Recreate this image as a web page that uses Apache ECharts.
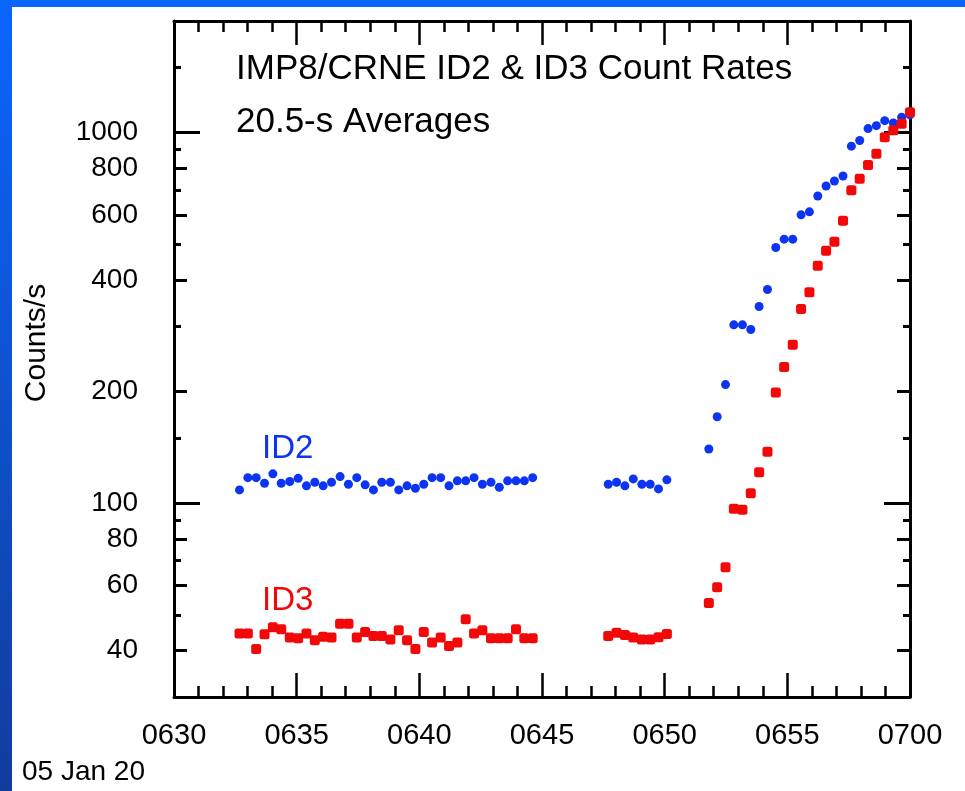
<!DOCTYPE html>
<html>
<head>
<meta charset="utf-8">
<script src="https://cdn.jsdelivr.net/npm/echarts@6/dist/echarts.min.js"></script>
<style>
  html, body { margin: 0; padding: 0; }
  #chart { width: 965px; height: 791px; }
</style>
</head>
<body>
<div id="chart"></div>
<script>
// Sample times: minutes after 0630 UT on 05 Jan 20, one point per 20.5-s average
const sampleMinutes = [
  2.67, 3.01, 3.35, 3.69, 4.03, 4.37, 4.72, 5.06, 5.40, 5.74, 6.08, 6.42,
  6.77, 7.11, 7.45, 7.79, 8.13, 8.47, 8.82, 9.16, 9.50, 9.84, 10.18, 10.52,
  10.87, 11.21, 11.55, 11.89, 12.23, 12.57, 12.92, 13.26, 13.60, 13.94, 14.28, 14.62,
  17.70, 18.04, 18.38, 18.72, 19.07, 19.41, 19.75, 20.09,
  21.80, 22.14, 22.48, 22.82, 23.17, 23.51, 23.85, 24.19, 24.53, 24.87, 25.22, 25.56,
  25.90, 26.24, 26.58, 26.92, 27.27, 27.61, 27.95, 28.29, 28.63, 28.97, 29.32, 29.66, 30.00
];

// ID2 count rate (counts/s)
const id2Rates = [
  108.6, 117.2, 117.2, 113.2, 120.0, 113.2, 114.4, 116.7, 111.4, 113.9, 111.4, 113.9,
  118.0, 112.5, 117.2, 112.1, 108.6, 113.9, 113.9, 108.6, 111.4, 109.7, 112.5, 117.2,
  117.2, 111.4, 114.9, 114.9, 117.2, 112.5, 113.9, 110.4, 114.9, 114.9, 114.9, 117.2,
  112.5, 113.9, 111.4, 116.3, 112.5, 112.5, 109.3, 115.6,
  140.0, 171.1, 208.9, 302.8, 302.8, 294.3, 339.3, 377.1, 489.8, 515.8, 515.8, 599.8,
  611.0, 674.5, 717.5, 740.2, 763.4, 919.2, 951.7, 1025, 1044, 1077, 1062, 1100, 1116
];

// ID3 count rate (counts/s)
const id3Rates = [
  44.5, 44.5, 40.4, 44.3, 46.3, 45.7, 43.4, 43.2, 44.5, 42.7, 43.6, 43.4,
  47.3, 47.3, 43.4, 44.9, 43.8, 43.8, 42.9, 45.4, 42.7, 40.4, 44.9, 42.1,
  43.4, 41.2, 42.1, 48.6, 44.5, 45.4, 43.2, 43.2, 43.2, 45.7, 43.2, 43.2,
  43.8, 44.7, 44.1, 43.4, 42.9, 42.9, 43.5, 44.4,
  53.8, 59.3, 67.2, 96.6, 96.0, 106.4, 121.2, 137.7, 198.8, 233.0, 267.6, 334.3,
  370.8, 437.4, 479.9, 507.5, 577.9, 698.4, 750.8, 817.3, 876.3, 971.9, 1015, 1057, 1134
];

// Axis ticks and labels
const xTickLabels = ['0630', '0635', '0640', '0645', '0650', '0655', '0700'];
const dateLabel = '05 Jan 20';
const yLabelValues = [40, 60, 80, 100, 200, 400, 600, 800, 1000];
const yLongTicks = [100, 1000];
const yMidTicks = [40, 60, 80, 200, 400, 600, 800];
const yShortTicks = [50, 70, 90, 150, 300, 500, 700, 900, 1500];

const FONT = "'Liberation Sans', Arial, Helvetica, sans-serif";
const BLUE = '#0c34f2';
const RED = '#f20808';

const chart = echarts.init(document.getElementById('chart'), null, { renderer: 'canvas' });

function logAxis(position, ticks, tickLen, opts) {
  return Object.assign({
    type: 'log',
    logBase: 10,
    min: 30,
    max: 2000,
    position: position,
    axisLine: { show: false },
    splitLine: { show: false },
    axisLabel: { show: false },
    axisTick: {
      show: true,
      inside: true,
      length: tickLen,
      customValues: ticks,
      lineStyle: { color: '#000', width: 3 }
    }
  }, opts || {});
}

function timeAxis(position, showLabels) {
  return {
    type: 'value',
    min: 0,
    max: 30,
    interval: 5,
    position: position,
    axisLine: { show: true, onZero: false, lineStyle: { color: '#000', width: 3 } },
    splitLine: { show: false },
    axisTick: { show: true, inside: true, length: 24, lineStyle: { color: '#000', width: 2.5 } },
    minorTick: { show: true, splitNumber: 5, length: 11, lineStyle: { color: '#000', width: 2.5 } },
    axisLabel: {
      show: showLabels,
      margin: 24,
      color: '#000',
      fontFamily: FONT,
      fontSize: 29,
      formatter: function (v) { return xTickLabels[Math.round(v / 5)]; }
    }
  };
}

const yLabelAxis = logAxis('left', yMidTicks, 13, {
  axisLine: { show: true, lineStyle: { color: '#000', width: 3 } },
  axisLabel: {
    show: true,
    customValues: yLabelValues,
    margin: 36,
    color: '#000',
    fontFamily: FONT,
    fontSize: 28,
    formatter: function (v) { return String(Math.round(v)); }
  }
});

const option = {
  animation: false,
  backgroundColor: new echarts.graphic.LinearGradient(0, 0, 0, 1, [
    { offset: 0, color: '#0a66ff' },
    { offset: 1, color: '#123c9c' }
  ]),
  grid: { left: 174, right: 55, top: 21, bottom: 94, containLabel: false },
  xAxis: [timeAxis('bottom', true), timeAxis('top', false)],
  yAxis: [
    yLabelAxis,
    logAxis('left', yLongTicks, 26),
    logAxis('left', yShortTicks, 7),
    logAxis('right', yMidTicks, 13, { axisLine: { show: true, lineStyle: { color: '#000', width: 3 } } }),
    logAxis('right', yLongTicks, 26),
    logAxis('right', yShortTicks, 7)
  ],
  graphic: [
    {
      type: 'rect', z: -100, silent: true,
      shape: { x: 12, y: 7, width: 953, height: 784 },
      style: { fill: '#ffffff' }
    },
    {
      type: 'text', left: 236, top: 52,
      style: { text: 'IMP8/CRNE ID2 & ID3 Count Rates', font: '35px ' + FONT, fill: '#000' }
    },
    {
      type: 'text', left: 236, top: 105,
      style: { text: '20.5-s Averages', font: '35px ' + FONT, fill: '#000' }
    },
    {
      type: 'text', left: 262, top: 432,
      style: { text: 'ID2', font: '33px ' + FONT, fill: BLUE }
    },
    {
      type: 'text', left: 262, top: 584,
      style: { text: 'ID3', font: '33px ' + FONT, fill: RED }
    },
    {
      type: 'text', x: 22, y: 343, rotation: Math.PI / 2,
      style: { text: 'Counts/s', font: '30px ' + FONT, fill: '#000', align: 'center', verticalAlign: 'top' }
    },
    {
      type: 'text', left: 22, top: 758,
      style: { text: dateLabel, font: '28px ' + FONT, fill: '#000' }
    }
  ],
  series: [
    {
      name: 'ID2',
      type: 'scatter',
      xAxisIndex: 0,
      yAxisIndex: 0,
      symbol: 'circle',
      symbolSize: 9,
      itemStyle: { color: BLUE, opacity: 1 },
      data: sampleMinutes.map((t, i) => [t, id2Rates[i]])
    },
    {
      name: 'ID3',
      type: 'scatter',
      xAxisIndex: 0,
      yAxisIndex: 0,
      symbol: 'roundRect',
      symbolSize: 10,
      itemStyle: { color: RED, opacity: 1 },
      data: sampleMinutes.map((t, i) => [t, id3Rates[i]])
    }
  ]
};

chart.setOption(option);
</script>
</body>
</html>
